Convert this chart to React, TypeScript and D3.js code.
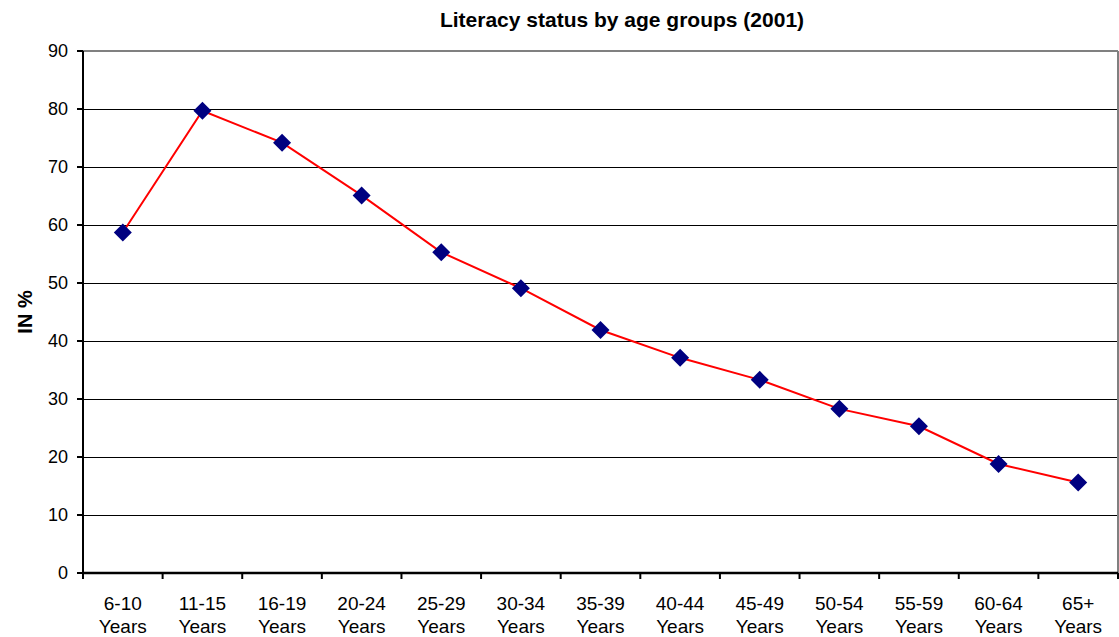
import React from "react";
import * as d3 from "d3";

const categories = [
  "6-10", "11-15", "16-19", "20-24", "25-29", "30-34", "35-39",
  "40-44", "45-49", "50-54", "55-59", "60-64", "65+",
];
const literacy = [58.7, 79.7, 74.2, 65.1, 55.3, 49.1, 41.9, 37.1, 33.3, 28.3, 25.3, 18.8, 15.6];
const yTicks = [0, 10, 20, 30, 40, 50, 60, 70, 80, 90];

const W = 1119;
const H = 637;
const margin = { left: 83, right: 1, top: 51, bottom: 64 };
const FONT = "Arial, 'Liberation Sans', sans-serif";

export default function App() {
  const x0 = margin.left;
  const x1 = W - margin.right;
  const y0 = H - margin.bottom;
  const y1 = margin.top;

  const x = d3.scaleBand<string>().domain(categories).range([x0, x1]);
  const y = d3.scaleLinear().domain([0, 90]).range([y0, y1]);

  const cxOf = (i: number) => (x(categories[i]) as number) + x.bandwidth() / 2;

  const line = d3
    .line<number>()
    .x((_, i) => cxOf(i))
    .y((d) => y(d));

  const boundaries = categories.map((c) => x(c) as number).concat([x1]);
  const r = 9;

  return (
    <svg
      width={W}
      height={H}
      style={{ position: "absolute", left: 0, top: 0, background: "#fff" }}
      fontFamily={FONT}
    >
      <text x={622} y={27} textAnchor="middle" fontSize={21} fontWeight="bold">
        Literacy status by age groups (2001)
      </text>

      {/* horizontal gridlines */}
      {yTicks.filter((t) => t > 0 && t < 90).map((t) => (
        <line key={t} x1={x0} x2={x1} y1={Math.round(y(t)) + 0.5} y2={Math.round(y(t)) + 0.5} stroke="#000" strokeWidth={1} />
      ))}

      {/* plot frame: grey top and right */}
      <line x1={x0} x2={x1} y1={y1} y2={y1} stroke="#808080" strokeWidth={2} />
      <line x1={x1} x2={x1} y1={y1} y2={y0} stroke="#808080" strokeWidth={2} />

      {/* y axis */}
      <line x1={x0} x2={x0} y1={y1} y2={y0} stroke="#000" strokeWidth={2} />
      {yTicks.map((t) => (
        <g key={t}>
          <line x1={x0 - 6} x2={x0} y1={y(t)} y2={y(t)} stroke="#000" strokeWidth={2} />
          <text x={68} y={y(t)} dy="0.36em" textAnchor="end" fontSize={18}>
            {t}
          </text>
        </g>
      ))}
      <text
        transform={`translate(32,${(y0 + y1) / 2}) rotate(-90)`}
        textAnchor="middle"
        fontSize={20}
        fontWeight="bold"
      >
        IN %
      </text>

      {/* x axis */}
      <line x1={x0} x2={x1} y1={y0} y2={y0} stroke="#000" strokeWidth={2.5} />
      {boundaries.map((b, i) => (
        <line key={i} x1={b} x2={b} y1={y0} y2={y0 + 6} stroke="#000" strokeWidth={2} />
      ))}
      {categories.map((c, i) => {
        const cx = cxOf(i);
        return (
          <text key={c} x={cx} textAnchor="middle" fontSize={19}>
            <tspan x={cx} y={610}>{c}</tspan>
            <tspan x={cx} y={633}>Years</tspan>
          </text>
        );
      })}

      {/* series */}
      <path d={line(literacy) ?? ""} fill="none" stroke="#ff0000" strokeWidth={2} />
      {literacy.map((v, i) => {
        const cx = cxOf(i);
        const cy = y(v);
        return (
          <path
            key={i}
            d={`M${cx},${cy - r}L${cx + r},${cy}L${cx},${cy + r}L${cx - r},${cy}Z`}
            fill="#000080"
          />
        );
      })}
    </svg>
  );
}
